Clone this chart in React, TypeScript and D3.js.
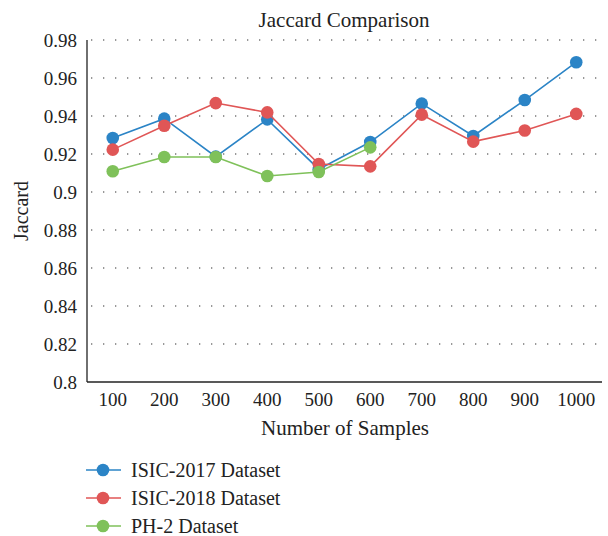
import React from "react";
import * as d3 from "d3";

const samples = ["100", "200", "300", "400", "500", "600", "700", "800", "900", "1000"];
const isic2017 = [0.9284, 0.9386, 0.9186, 0.9382, 0.912, 0.9263, 0.9465, 0.9295, 0.9484, 0.9683];
const isic2018 = [0.9223, 0.9349, 0.9468, 0.9419, 0.9147, 0.9135, 0.9407, 0.9265, 0.9324, 0.9411];
const ph2 = [0.9109, 0.9184, 0.9184, 0.9084, 0.9105, 0.9235];
const yTicks = [0.8, 0.82, 0.84, 0.86, 0.88, 0.9, 0.92, 0.94, 0.96, 0.98];

const series = [
  { name: "ISIC-2017 Dataset", values: isic2017, color: "#2b84c6" },
  { name: "ISIC-2018 Dataset", values: isic2018, color: "#e05656" },
  { name: "PH-2 Dataset", values: ph2, color: "#7fc15a" },
];

const W = 608;
const H = 536;
const margin = { left: 87, right: 6, top: 40, bottom: 154 };
const textStyle: React.CSSProperties = {
  fontFamily: "Liberation Serif, DejaVu Serif, serif",
};

export default function App() {
  const x = d3
    .scaleBand<string>()
    .domain(samples)
    .range([margin.left, W - margin.right])
    .padding(0);
  const y = d3.scaleLinear().domain([0.8, 0.98]).range([H - margin.bottom, margin.top]);
  const cx = (i: number) => (x(samples[i]) as number) + x.bandwidth() / 2;
  const line = d3
    .line<number>()
    .x((_, i) => cx(i))
    .y((v) => y(v));

  const x0 = margin.left;
  const x1 = W - margin.right;
  const yb = y(0.8);

  return (
    <svg
      width={W}
      height={H}
      style={{ position: "absolute", left: 0, top: 0, background: "#fff" }}
    >
      <text x={344} y={26.5} textAnchor="middle" fontSize={21} fill="#222" style={textStyle}>
        Jaccard Comparison
      </text>

      {yTicks.map((t) => (
        <g key={t}>
          {t > 0.8 && (
            <line
              x1={x0 + 4}
              x2={x1}
              y1={y(t)}
              y2={y(t)}
              stroke="#333"
              strokeWidth={1.2}
              strokeDasharray="1.3 10.7"
            />
          )}
          <text
            x={77}
            y={y(t)}
            dy="0.35em"
            textAnchor="end"
            fontSize={19}
            fill="#222"
            style={textStyle}
          >
            {String(+t.toFixed(2))}
          </text>
        </g>
      ))}

      <line x1={x0} x2={x0} y1={y(0.98)} y2={yb} stroke="#222" strokeWidth={1.3} />
      <line x1={x0} x2={x1} y1={yb} y2={yb} stroke="#222" strokeWidth={1.3} />

      {samples.map((s, i) => (
        <text
          key={s}
          x={cx(i)}
          y={406}
          textAnchor="middle"
          fontSize={19}
          fill="#222"
          style={textStyle}
        >
          {s}
        </text>
      ))}

      <text x={345} y={435} textAnchor="middle" fontSize={21} fill="#222" style={textStyle}>
        Number of Samples
      </text>
      <text
        transform={`translate(28,${(y(0.98) + yb) / 2}) rotate(-90)`}
        textAnchor="middle"
        fontSize={20}
        fill="#222"
        style={textStyle}
      >
        Jaccard
      </text>

      {series.map((s) => (
        <g key={s.name}>
          <path d={line(s.values) || ""} fill="none" stroke={s.color} strokeWidth={1.6} />
          {s.values.map((v, i) => (
            <circle key={i} cx={cx(i)} cy={y(v)} r={6.3} fill={s.color} />
          ))}
        </g>
      ))}

      {series.map((s, i) => {
        const ly = 470 + i * 28;
        return (
          <g key={s.name}>
            <line x1={86} x2={121} y1={ly} y2={ly} stroke={s.color} strokeWidth={1.6} />
            <circle cx={103} cy={ly} r={6.3} fill={s.color} />
            <text x={131} y={ly} dy="0.35em" fontSize={20} fill="#222" style={textStyle}>
              {s.name}
            </text>
          </g>
        );
      })}
    </svg>
  );
}
